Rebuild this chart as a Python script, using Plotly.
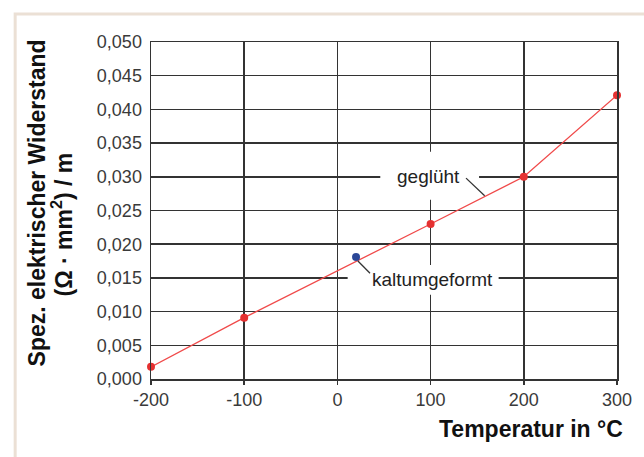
import plotly.graph_objects as go

# data
temp_gegluht = [-200, -100, 100, 200, 300]
rho_gegluht = [0.0018, 0.0091, 0.0230, 0.0300, 0.0421]
temp_kalt = [20]
rho_kalt = [0.0181]

x_tickvals = [-200, -100, 0, 100, 200, 300]
x_ticktext = ["-200", "-100", "0", "100", "200", "300"]
y_tickvals = [0.000, 0.005, 0.010, 0.015, 0.020, 0.025, 0.030, 0.035, 0.040, 0.045, 0.050]
y_ticktext = ["0,000", "0,005", "0,010", "0,015", "0,020", "0,025", "0,030", "0,035", "0,040", "0,045", "0,050"]

GRID = "#333333"
TICKFONT = dict(family="Liberation Sans, Arial, sans-serif", size=18, color="#3a3a3a")
LABELFONT = dict(family="Liberation Sans, Arial, sans-serif", size=19, color="#222222")
TITLEFONT = dict(family="Liberation Sans, Arial, sans-serif", size=23, color="#111111", weight="bold")

fig = go.Figure()
fig.add_trace(go.Scatter(
    x=temp_gegluht, y=rho_gegluht, mode="lines+markers",
    line=dict(color="#f04a4a", width=1.3),
    marker=dict(color="#e53030", size=8),
    showlegend=False, cliponaxis=False, hoverinfo="skip"))
fig.add_trace(go.Scatter(
    x=temp_kalt, y=rho_kalt, mode="markers",
    marker=dict(color="#2b4797", size=8),
    showlegend=False, cliponaxis=False, hoverinfo="skip"))

shapes = []
# white gaps behind labels (above grid, below traces)
shapes.append(dict(type="rect", xref="x", yref="y", x0=46, x1=152, y0=0.0266, y1=0.0337,
                   fillcolor="white", line=dict(width=0), layer="between"))
shapes.append(dict(type="rect", xref="x", yref="y", x0=11, x1=173, y0=0.0125, y1=0.0169,
                   fillcolor="white", line=dict(width=0), layer="between"))
# leader lines
shapes.append(dict(type="line", xref="x", yref="y", x0=138, y0=0.0298, x1=158, y1=0.0272,
                   line=dict(color=GRID, width=1.3), layer="above"))
shapes.append(dict(type="line", xref="x", yref="y", x0=22, y0=0.0175, x1=35, y1=0.0157,
                   line=dict(color=GRID, width=1.3), layer="above"))
# beige frame
shapes.append(dict(type="path", xref="paper", yref="paper",
                   path="M -0.2915,-0.3 L -0.2915,1.0831 L 1.1,1.0831",
                   line=dict(color="#ebe0d5", width=3), layer="below"))

annotations = [
    dict(x=98, y=0.0300, xref="x", yref="y", text="geglüht", showarrow=False,
         font=LABELFONT, xanchor="center", yanchor="middle"),
    dict(x=102, y=0.0147, xref="x", yref="y", text="kaltumgeformt", showarrow=False,
         font=LABELFONT, xanchor="center", yanchor="middle"),
    dict(x=1.018, y=-0.148, xref="paper", yref="paper", text="Temperatur in °C", showarrow=False,
         font=TITLEFONT, xanchor="right", yanchor="middle"),
    dict(x=-0.2440, y=0.522, xref="paper", yref="paper", text="Spez. elektrischer Widerstand",
         showarrow=False, font=TITLEFONT, textangle=-90, xanchor="center", yanchor="middle"),
    dict(x=-0.1900, y=0.46, xref="paper", yref="paper", text="(Ω · mm<sup>2</sup>) / m",
         showarrow=False, font=TITLEFONT, textangle=-90, xanchor="center", yanchor="middle"),
]

fig.update_layout(
    width=644, height=457,
    margin=dict(l=151, r=22, t=42, b=78),
    paper_bgcolor="white", plot_bgcolor="white",
    shapes=shapes, annotations=annotations,
    hovermode=False,
    xaxis=dict(range=[-200, 300], tickvals=x_tickvals, ticktext=x_ticktext,
               showgrid=True, gridcolor=GRID, gridwidth=1.5,
               showline=True, linecolor=GRID, linewidth=1.5, mirror=True,
               ticks="outside", ticklen=4, tickcolor=GRID, tickwidth=1.5,
               tickfont=TICKFONT, zeroline=False, fixedrange=True),
    yaxis=dict(range=[0, 0.05], tickvals=y_tickvals, ticktext=y_ticktext,
               showgrid=True, gridcolor=GRID, gridwidth=1.5,
               showline=True, linecolor=GRID, linewidth=1.5, mirror=True,
               ticks="outside", ticklen=4, tickcolor="rgba(0,0,0,0)",
               tickfont=TICKFONT, zeroline=False, fixedrange=True),
)

fig.write_html("out.html", config={"displayModeBar": False, "staticPlot": True},
               post_script="document.body.style.margin='0';document.body.style.padding='0';")
